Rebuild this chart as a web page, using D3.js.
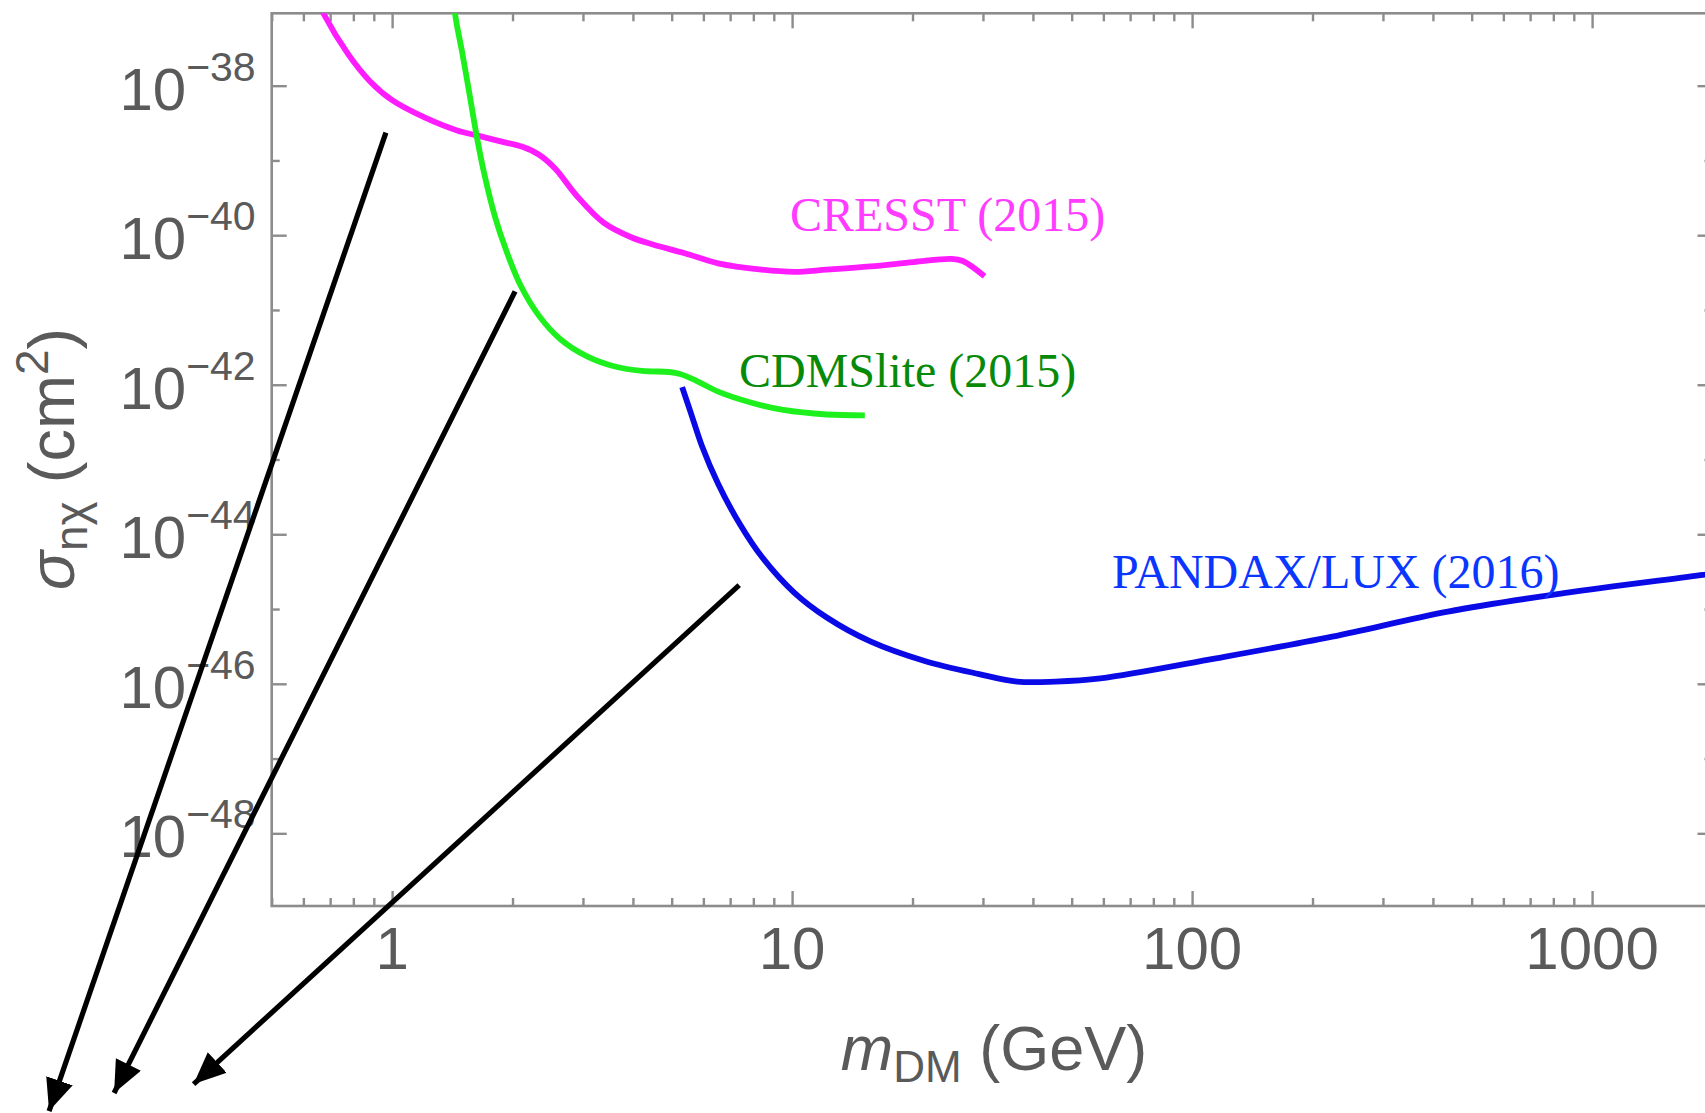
<!DOCTYPE html>
<html>
<head>
<meta charset="utf-8">
<script src="https://cdn.jsdelivr.net/npm/d3@7"></script>
<style>
  html, body { margin: 0; padding: 0; background: #fff; }
  svg { display: block; }
</style>
</head>
<body>
<svg id="chart" width="1705" height="1113"></svg>
<script>
// Dark-matter direct-detection exclusion limits (cross section vs. mass)

// --- data ---------------------------------------------------------------
const cresstMass  = [0.62, 0.673, 0.777, 0.881, 1.0, 1.205, 1.454, 1.648, 1.867, 2.117, 2.325, 2.555, 2.894, 3.385, 3.958, 4.487, 5.414, 6.531, 8.389, 10.12, 12.21, 15.69, 20.14, 25.06, 26.71, 30.27];
const cresstSigma = [2.5e-37, 9.3e-38, 2.62e-38, 1.14e-38, 6.4e-39, 3.76e-39, 2.52e-39, 2.13e-39, 1.8e-39, 1.52e-39, 1.2e-39, 7.8e-40, 3.37e-40, 1.46e-40, 9.4e-41, 7.5e-41, 5.7e-41, 4.2e-41, 3.46e-41, 3.24e-41, 3.46e-41, 3.82e-41, 4.37e-41, 4.83e-41, 4.52e-41, 2.83e-41];

const cdmsMass  = [1.40, 1.436, 1.50, 1.567, 1.627, 1.70, 1.81, 1.927, 2.091, 2.325, 2.635, 3.082, 3.604, 4.216, 4.929, 5.248, 5.764, 6.531, 7.88, 9.51, 12.21, 15.2];
const cdmsSigma = [4e-37, 9.3e-38, 2.62e-38, 6.87e-39, 2.13e-39, 6.59e-40, 1.73e-40, 6.32e-41, 2.17e-41, 8.47e-42, 4.06e-42, 2.37e-42, 1.75e-42, 1.53e-42, 1.48e-42, 1.39e-42, 1.13e-42, 8.1e-43, 5.8e-43, 4.6e-43, 4.0e-43, 3.9e-43];

const luxMass  = [5.31, 5.585, 5.948, 6.531, 7.40, 8.389, 10.12, 12.21, 15.69, 21.45, 29.34, 36.52, 45.48, 59.0, 114.8, 224, 436, 849, 1891, 2000];
const luxSigma = [9.3e-43, 4.18e-43, 1.53e-43, 4.74e-44, 1.37e-44, 5.03e-45, 1.66e-45, 7.7e-46, 3.69e-46, 2.02e-46, 1.35e-46, 1.07e-46, 1.07e-46, 1.18e-46, 2.19e-46, 4.27e-46, 9.24e-46, 1.63e-45, 2.86e-45, 3.0e-45];

const seriesNames = ["CRESST (2015)", "CDMSlite (2015)", "PANDAX/LUX (2016)"];

// annotation arrows: [mass, sigma] start -> end
const arrowStarts = [[0.965, 2.35e-39], [2.03, 1.77e-41], [7.375, 2.09e-45]];
const arrowEnds   = [[0.1388, 1.93e-52], [0.2018, 3.36e-52], [0.319, 4.43e-52]];

const xMajorTicks = [1, 10, 100, 1000];
const xTickLabels = ["1", "10", "100", "1000"];
const yMajorExps  = [-38, -40, -42, -44, -46, -48];
const yMinorExps  = [-39, -41, -43, -45, -47, -49];

// --- layout -------------------------------------------------------------
const svg = d3.select("#chart");
const frame = { left: 271.7, top: 13.3, right: 1712.5, bottom: 906 };
const frameColor = "#8c8c8c";
const labelColor = "#5a5a5a";
const sansFont = "'Liberation Sans', Arial, Helvetica, sans-serif";
const serifFont = "'Liberation Serif', 'Times New Roman', serif";

const x = d3.scaleLog().domain([0.5, 2000]).range([frame.left, frame.right]);
const y = d3.scaleLog().domain([Math.pow(10, -48.972), Math.pow(10, -37.032)]).range([frame.bottom, frame.top]);

svg.append("defs").append("clipPath").attr("id", "plotClip")
  .append("rect")
  .attr("x", frame.left).attr("y", frame.top)
  .attr("width", frame.right - frame.left).attr("height", frame.bottom - frame.top);

// --- frame ticks (all four sides, pointing inward) -----------------------
const xMinor = [];
for (let dec = 0.1; dec <= 1000; dec *= 10) {
  for (let k = 2; k <= 9; k++) {
    const v = +(k * dec).toPrecision(3);
    if (v >= 0.5 && v <= 2000) xMinor.push(v);
  }
}
const majorLen = 15, minorLen = 8;

const axisBottom = d3.axisBottom(x).tickValues(xMajorTicks).tickFormat("").tickSizeInner(-majorLen).tickSizeOuter(0);
const axisBottomMinor = d3.axisBottom(x).tickValues(xMinor).tickFormat("").tickSizeInner(-minorLen).tickSizeOuter(0);
const axisTop = d3.axisTop(x).tickValues(xMajorTicks).tickFormat("").tickSizeInner(-majorLen).tickSizeOuter(0);
const axisTopMinor = d3.axisTop(x).tickValues(xMinor).tickFormat("").tickSizeInner(-minorLen).tickSizeOuter(0);
const yMajorVals = yMajorExps.map(e => Math.pow(10, e));
const yMinorVals = yMinorExps.map(e => Math.pow(10, e)).filter(v => v >= y.domain()[0]);
const axisLeft = d3.axisLeft(y).tickValues(yMajorVals).tickFormat("").tickSizeInner(-majorLen).tickSizeOuter(0);
const axisLeftMinor = d3.axisLeft(y).tickValues(yMinorVals).tickFormat("").tickSizeInner(-minorLen).tickSizeOuter(0);
const axisRight = d3.axisRight(y).tickValues(yMajorVals).tickFormat("").tickSizeInner(-majorLen).tickSizeOuter(0);
const axisRightMinor = d3.axisRight(y).tickValues(yMinorVals).tickFormat("").tickSizeInner(-minorLen).tickSizeOuter(0);

function styleAxis(g) {
  g.selectAll("path.domain").remove();
  g.selectAll("line").attr("stroke", frameColor).attr("stroke-width", 2.4);
}
svg.append("g").attr("transform", `translate(0,${frame.bottom})`).call(axisBottom).call(styleAxis);
svg.append("g").attr("transform", `translate(0,${frame.bottom})`).call(axisBottomMinor).call(styleAxis);
svg.append("g").attr("transform", `translate(0,${frame.top})`).call(axisTop).call(styleAxis);
svg.append("g").attr("transform", `translate(0,${frame.top})`).call(axisTopMinor).call(styleAxis);
svg.append("g").attr("transform", `translate(${frame.left},0)`).call(axisLeft).call(styleAxis);
svg.append("g").attr("transform", `translate(${frame.left},0)`).call(axisLeftMinor).call(styleAxis);
svg.append("g").attr("transform", `translate(${frame.right},0)`).call(axisRight).call(styleAxis);
svg.append("g").attr("transform", `translate(${frame.right},0)`).call(axisRightMinor).call(styleAxis);

svg.append("rect")
  .attr("x", frame.left).attr("y", frame.top)
  .attr("width", frame.right - frame.left).attr("height", frame.bottom - frame.top)
  .attr("fill", "none").attr("stroke", frameColor).attr("stroke-width", 2.6);

// --- tick labels --------------------------------------------------------
svg.append("g").selectAll("text").data(xMajorTicks).join("text")
  .attr("x", d => x(d)).attr("y", 969)
  .attr("text-anchor", "middle")
  .attr("font-family", sansFont).attr("font-size", 60).attr("fill", labelColor)
  .text((d, i) => xTickLabels[i]);

const yLab = svg.append("g").selectAll("text").data(yMajorExps).join("text")
  .attr("x", frame.left - 16).attr("y", d => y(Math.pow(10, d)) + 24)
  .attr("text-anchor", "end")
  .attr("font-family", sansFont).attr("fill", labelColor);
yLab.append("tspan").attr("font-size", 60).text("10");
yLab.append("tspan").attr("font-size", 41).attr("dy", -29).text(d => "\u2212" + Math.abs(d));

// --- axis titles --------------------------------------------------------
const xTitle = svg.append("text")
  .attr("x", 994).attr("y", 1070).attr("text-anchor", "middle")
  .attr("font-family", sansFont).attr("font-size", 63).attr("fill", labelColor);
xTitle.append("tspan").attr("font-style", "italic").text("m");
xTitle.append("tspan").attr("font-size", 44).attr("dy", 12).text("DM");
xTitle.append("tspan").attr("dy", -12).text(" (GeV)");

const yTitle = svg.append("text")
  .attr("transform", "translate(74,459) rotate(-90)").attr("text-anchor", "middle")
  .attr("font-family", sansFont).attr("font-size", 65).attr("fill", labelColor);
yTitle.append("tspan").attr("font-style", "italic").text("\u03c3");
yTitle.append("tspan").attr("font-size", 46).attr("dy", 13).text("n\u03c7");
yTitle.append("tspan").attr("dy", -13).text(" (cm");
yTitle.append("tspan").attr("font-size", 46).attr("dy", -26).text("2");
yTitle.append("tspan").attr("dy", 26).text(")");

// --- limit curves -------------------------------------------------------
const line = d3.line()
  .x(d => x(d[0])).y(d => y(d[1]))
  .curve(d3.curveCatmullRom.alpha(0.5));

const curves = [
  { mass: cresstMass, sigma: cresstSigma, color: "#ff1cff" },
  { mass: cdmsMass,   sigma: cdmsSigma,   color: "#1ef01e" },
  { mass: luxMass,    sigma: luxSigma,    color: "#0a0ae6" }
];
const plot = svg.append("g").attr("clip-path", "url(#plotClip)");
plot.selectAll("path.limit").data(curves).join("path")
  .attr("class", "limit")
  .attr("d", c => line(c.mass.map((m, i) => [m, c.sigma[i]])))
  .attr("fill", "none").attr("stroke", c => c.color)
  .attr("stroke-width", 5.8).attr("stroke-linejoin", "round").attr("stroke-linecap", "butt");

// --- curve labels -------------------------------------------------------
const labelSpots = [
  { x: 790, y: 231, color: "#ff3cff" },
  { x: 739, y: 387, color: "#078a07" },
  { x: 1112, y: 588, color: "#0a36ff" }
];
svg.append("g").selectAll("text").data(seriesNames).join("text")
  .attr("x", (d, i) => labelSpots[i].x).attr("y", (d, i) => labelSpots[i].y)
  .attr("font-family", serifFont).attr("font-size", 48)
  .attr("fill", (d, i) => labelSpots[i].color)
  .text(d => d);

// --- annotation arrows --------------------------------------------------
svg.select("defs").append("marker")
  .attr("id", "arrowHead")
  .attr("viewBox", "0 0 32 28").attr("refX", 32).attr("refY", 14)
  .attr("markerWidth", 32).attr("markerHeight", 28)
  .attr("markerUnits", "userSpaceOnUse").attr("orient", "auto")
  .append("path").attr("d", "M0,0 L32,14 L0,28 Z").attr("fill", "#000");

svg.append("g").selectAll("line").data(arrowStarts).join("line")
  .attr("x1", d => x(d[0])).attr("y1", d => y(d[1]))
  .attr("x2", (d, i) => x(arrowEnds[i][0])).attr("y2", (d, i) => y(arrowEnds[i][1]))
  .attr("stroke", "#000").attr("stroke-width", 5.2)
  .attr("marker-end", "url(#arrowHead)");
</script>
</body>
</html>
